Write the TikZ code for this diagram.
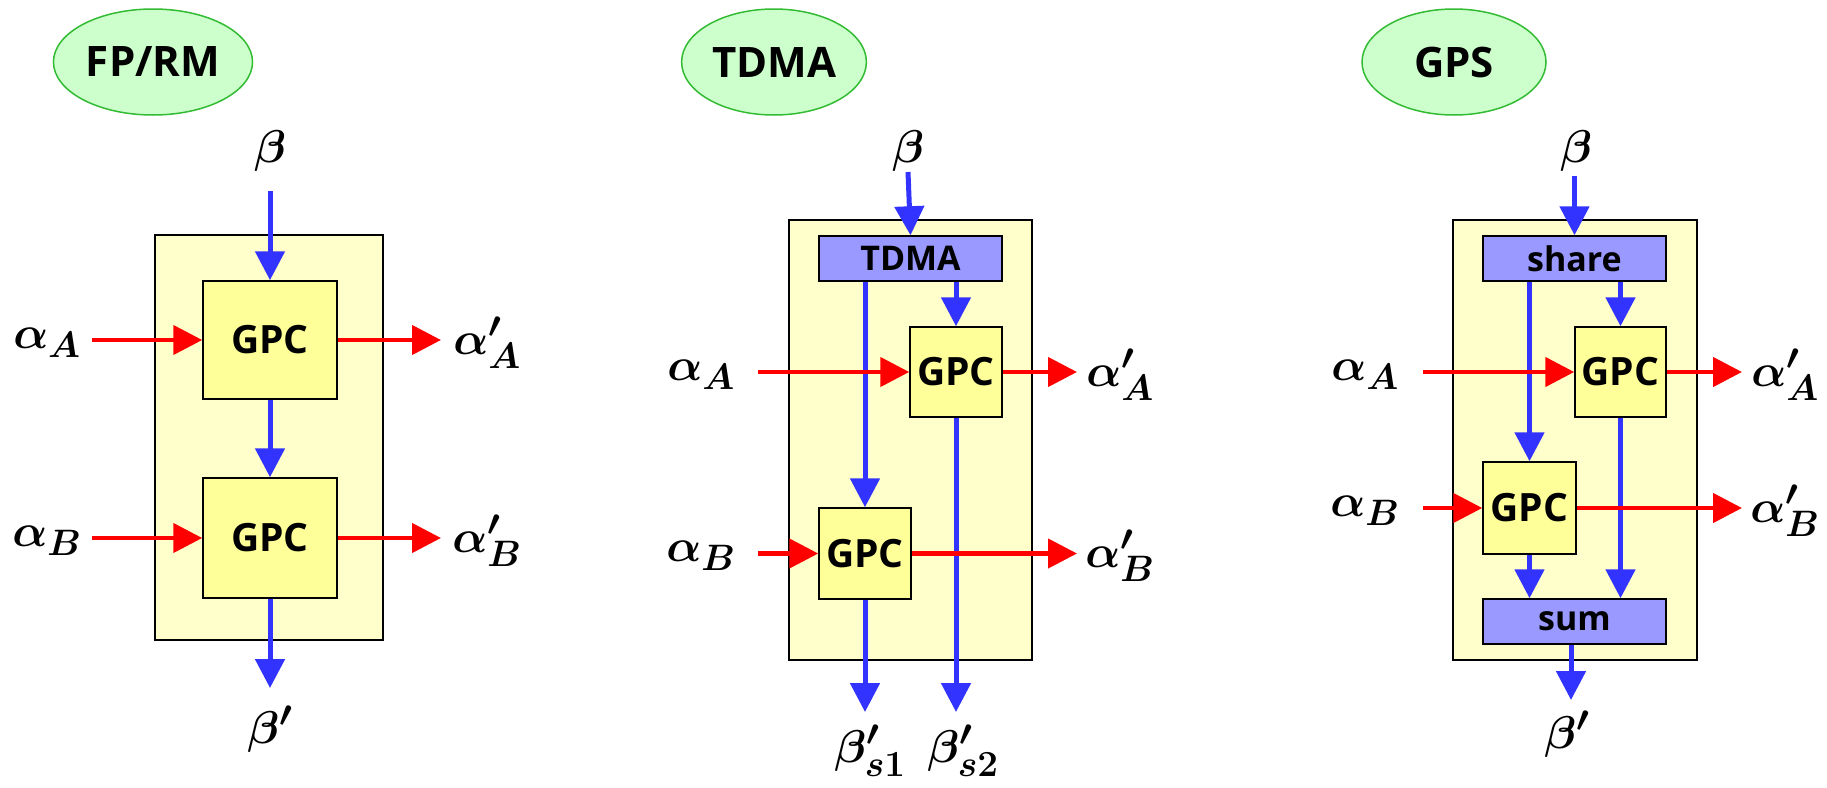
\RequirePackage{fix-cm}
\documentclass[tikz,border=0pt]{standalone}
\usepackage{amsmath}
\usepackage{fontspec}
\setmainfont{Open Sans}
\usetikzlibrary{arrows.meta,shapes.geometric}
\renewcommand\defaultscriptratio{.8}
\definecolor{boxyellow}{HTML}{FFFFCC}
\definecolor{gpcyellow}{HTML}{FFFF99}
\definecolor{barblue}{HTML}{9999FF}
\definecolor{titlegreen}{HTML}{CCFFCC}
\definecolor{titleline}{HTML}{33BB33}
\definecolor{flowblue}{HTML}{3333FF}
\definecolor{flowred}{HTML}{FF0000}

\begin{document}
\begin{tikzpicture}[x=1pt,y=-1pt,
  title/.style={ellipse, draw=titleline, line width=1.5pt, fill=titlegreen,
    minimum width=184pt, minimum height=106pt, font=\fontsize{42}{46}\selectfont\bfseries},
  outer/.style={draw, line width=1.5pt, fill=boxyellow},
  gpc/.style={draw, line width=1.5pt, fill=gpcyellow, font=\fontsize{39}{43}\selectfont\bfseries},
  bar/.style={draw, line width=1.5pt, fill=barblue, minimum width=183pt, minimum height=45pt,
    inner sep=0pt, font=\fontsize{34}{38}\selectfont\bfseries},
  lab/.style={inner sep=0pt, font=\fontsize{46}{50}\selectfont\boldmath},
  barr/.style={flowblue, line width=5pt, -{Triangle[length=29pt,width=29pt]}},
  rarr/.style={flowred, line width=4.5pt, -{Triangle[length=29pt,width=29pt]}}]
\useasboundingbox (0,0) rectangle (1827,787);

% FP/RM
\node[title] (t1) at (153,62) {FP/RM};
\node[outer, minimum width=228pt, minimum height=405pt] (o1) at (269,437.5) {};
\node[gpc, minimum width=134pt, minimum height=118pt] (a1) at (270,340) {GPC};
\node[gpc, minimum width=134pt, minimum height=120pt] (b1) at (270,538) {GPC};
\node[lab] (be1) at (270,151) {$\beta$};
\node[lab] (bo1) at (270,729) {$\beta'$};
\node[lab] (ia1) at (47,343) {$\alpha_A$};
\node[lab] (ib1) at (47,541) {$\alpha_B$};
\node[lab] (oa1) at (487,343) {$\alpha'_A$};
\node[lab] (ob1) at (487,541) {$\alpha'_B$};
\coordinate (bin1) at (270,191);
\coordinate (bout1) at (270,688);
\coordinate (ina1) at (92,340);
\coordinate (inb1) at (92,538);
\coordinate (outa1) at (441,340);
\coordinate (outb1) at (441,538);
\draw[barr] (bin1) -- (a1.north);
\draw[barr] (a1.south) -- (b1.north);
\draw[barr] (b1.south) -- (bout1);
\draw[rarr] (ina1) -- (a1.west);
\draw[rarr] (inb1) -- (b1.west);
\draw[rarr] (a1.east) -- (outa1);
\draw[rarr] (b1.east) -- (outb1);

% TDMA
\node[title] (t2) at (774,62) {TDMA};
\node[outer, minimum width=243pt, minimum height=440pt] (o2) at (910.5,440) {};
\node[bar] (td2) at (910.5,258.5) {TDMA};
\node[gpc, minimum width=92pt, minimum height=90pt, inner sep=0pt] (a2) at (956,372) {GPC};
\node[gpc, minimum width=92pt, minimum height=91pt, inner sep=0pt] (b2) at (865,553.5) {GPC};
\node[lab] (be2) at (908,151) {$\beta$};
\node[lab, anchor=south] (bs1) at (870,777) {$\beta'_{s1}$};
\node[lab, anchor=south] (bs2) at (963,777) {$\beta'_{s2}$};
\node[lab] (ia2) at (701,375) {$\alpha_A$};
\node[lab] (ib2) at (701,556) {$\alpha_B$};
\node[lab] (oa2) at (1120,375) {$\alpha'_A$};
\node[lab] (ob2) at (1120,556) {$\alpha'_B$};
\coordinate (bin2) at (908,172);
\coordinate (out1b2) at (865,712);
\coordinate (out2b2) at (956,712);
\coordinate (ina2) at (758,372);
\coordinate (inb2) at (758,553.5);
\coordinate (outa2) at (1077,372);
\coordinate (outb2) at (1077,553.5);
\draw[barr] (bin2) -- (td2.north);
\draw[barr] (b2.north |- td2.south) -- (b2.north);
\draw[barr] (a2.north |- td2.south) -- (a2.north);
\draw[barr] (b2.south) -- (out1b2);
\draw[barr] (a2.south) -- (out2b2);
\draw[rarr] (ina2) -- (a2.west);
\draw[rarr] (inb2) -- (b2.west);
\draw[rarr] (a2.east) -- (outa2);
\draw[rarr] (b2.east) -- (outb2);

% GPS
\node[title] (t3) at (1454,62) {GPS};
\node[outer, minimum width=244pt, minimum height=440pt] (o3) at (1575,440) {};
\node[bar] (sh3) at (1574.5,258.5) {share};
\node[bar] (su3) at (1574.5,621.5) {sum};
\node[gpc, minimum width=91pt, minimum height=90pt, inner sep=0pt] (a3) at (1620.5,372) {GPC};
\node[gpc, minimum width=93pt, minimum height=92pt, inner sep=0pt] (b3) at (1529.5,508) {GPC};
\node[lab] (be3) at (1576,151) {$\beta$};
\node[lab] (bo3) at (1567,734) {$\beta'$};
\node[lab] (ia3) at (1365,375) {$\alpha_A$};
\node[lab] (ib3) at (1365,511) {$\alpha_B$};
\node[lab] (oa3) at (1785,375) {$\alpha'_A$};
\node[lab] (ob3) at (1785,511) {$\alpha'_B$};
\coordinate (bin3) at (1574.5,176);
\coordinate (bout3) at (1571,700);
\coordinate (ina3) at (1423,372);
\coordinate (inb3) at (1423,508);
\coordinate (outa3) at (1742,372);
\coordinate (outb3) at (1742,508);
\draw[barr] (bin3) -- (sh3.north);
\draw[barr] (b3.north |- sh3.south) -- (b3.north);
\draw[barr] (a3.north |- sh3.south) -- (a3.north);
\draw[barr] (b3.south) -- (b3.south |- su3.north);
\draw[barr] (a3.south) -- (a3.south |- su3.north);
\draw[barr] (bout3 |- su3.south) -- (bout3);
\draw[rarr] (ina3) -- (a3.west);
\draw[rarr] (inb3) -- (b3.west);
\draw[rarr] (a3.east) -- (outa3);
\draw[rarr] (b3.east) -- (outb3);
\end{tikzpicture}
\end{document}
